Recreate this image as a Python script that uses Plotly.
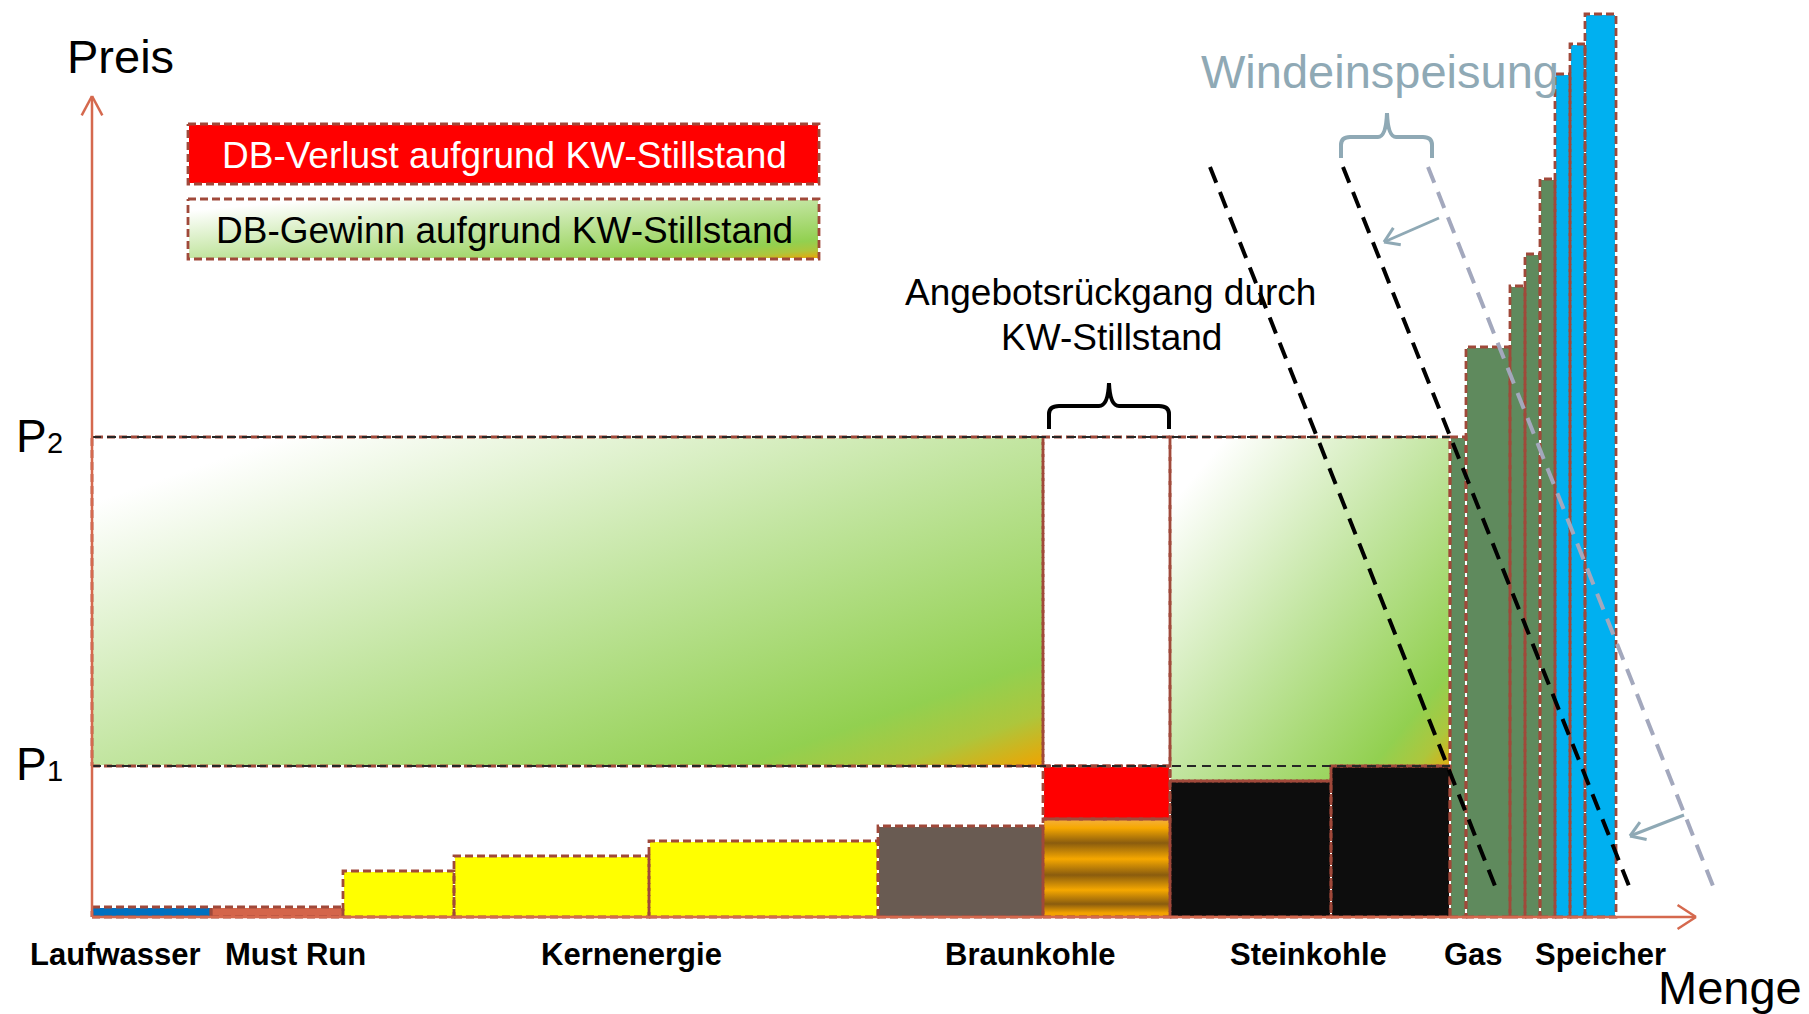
import base64
import numpy as np
import plotly.graph_objects as go

# ---------------- data (Merit-Order, arbitrary units) ----------------
blocks = ["Laufwasser", "Must Run", "Kernenergie 1", "Kernenergie 2", "Kernenergie 3",
          "Braunkohle", "Braunkohle (Stillstand)", "Steinkohle 1", "Steinkohle 2",
          "Gas 1", "Gas 2", "Gas 3", "Gas 4", "Gas 5",
          "Speicher 1", "Speicher 2", "Speicher 3"]
capacity = [119, 132, 111, 195, 229, 165, 127, 161, 119, 16, 44, 15, 15, 15, 15, 15, 31]
marginal_cost = [10, 10, 46, 61, 76, 91, 98, 136, 151, 480, 570, 631, 663, 738, 843, 873, 903]
block_colors = ["#0070C0", "#D4654A", "#FFFF00", "#FFFF00", "#FFFF00", "#695B52", "#F3A200",
                "#0D0D0D", "#0D0D0D", "#5F8A5D", "#5F8A5D", "#5F8A5D", "#5F8A5D", "#5F8A5D",
                "#00B0F0", "#00B0F0", "#00B0F0"]
P1 = 151
P2 = 480
category_labels = ["Laufwasser", "Must Run", "Kernenergie", "Braunkohle", "Steinkohle", "Gas", "Speicher"]
category_label_x = [23, 203, 539, 938, 1216, 1381, 1508]
demand_y = [750, 31]
demand_outage_x = [1118, 1403]      # left black dashed
demand_wind_x = [1251, 1537]        # middle black dashed
demand_nowind_x = [1336, 1621]      # grey dashed
OUTAGE = 6

# ---------------- style ----------------
FONT = "Liberation Sans, Arial, sans-serif"
BORDER = "#A0493A"
AXIS = "#D5694E"
WIND = "#8FA9B5"
GREY_DEM = "#A3A8BD"


def X(px):
    return px - 92


def Y(py):
    return 917 - py


def grad_uri(stops):
    st = "".join(f'<stop offset="{o}" stop-color="{c}"/>' for o, c in stops)
    svg = ('<svg xmlns="http://www.w3.org/2000/svg" width="100" height="100" viewBox="0 0 100 100" '
           'preserveAspectRatio="none"><defs><linearGradient id="g" x1="0" y1="0" x2="1" y2="1">'
           f'{st}</linearGradient></defs><rect width="100" height="100" fill="url(#g)"/></svg>')
    return "data:image/svg+xml;base64," + base64.b64encode(svg.encode()).decode()


GREEN_GRAD = grad_uri([(0, "#FFFFFF"), (0.1, "#FFFFFF"), (0.5, "#C2E5A0"), (0.84, "#92D050"),
                       (0.92, "#ADC63C"), (1, "#F0A300")])

lefts = np.concatenate([[0], np.cumsum(capacity)[:-1]])
rights = lefts + np.array(capacity)

fig = go.Figure()

# gradient areas (DB-Gewinn)
images = [
    dict(source=GREEN_GRAD, xref="x", yref="y", x=0, y=P2, sizex=lefts[OUTAGE], sizey=P2 - P1,
         xanchor="left", yanchor="top", sizing="stretch", layer="below"),
    dict(source=GREEN_GRAD, xref="x", yref="y", x=rights[OUTAGE], y=P2,
         sizex=lefts[OUTAGE + 3] - rights[OUTAGE], sizey=P2 - marginal_cost[OUTAGE + 1],
         xanchor="left", yanchor="top", sizing="stretch", layer="below"),
    dict(source=GREEN_GRAD, xref="x", yref="y", x=X(188), y=Y(199), sizex=631, sizey=60,
         xanchor="left", yanchor="top", sizing="stretch", layer="below"),
]

# bars
fig.add_trace(go.Bar(x=lefts, y=marginal_cost, width=capacity, offset=0, base=0,
                     marker=dict(color=block_colors, line=dict(width=0)),
                     hoverinfo="skip", showlegend=False))

# striped outage block
l, r, t = lefts[OUTAGE], rights[OUTAGE], marginal_cost[OUTAGE]
stripe_pos = [0, 4, 13, 27, 42, 58, 74, 89, 98]
stripe_col = ["#F3A200", "#F3A200", "#8A5C0E", "#F6A800", "#8A5C0E", "#F6A800", "#8A5C0E", "#F6A800", "#F4B040"]
fig.add_trace(go.Scatter(x=[l, r, r, l, l], y=[0, 0, t, t, 0], mode="lines", fill="toself",
                         line=dict(width=0), hoverinfo="skip", showlegend=False,
                         fillgradient=dict(type="vertical", start=0, stop=t,
                                           colorscale=[[p / t, c] for p, c in zip(stripe_pos, stripe_col)])))

# red loss box and white outage box
fig.add_trace(go.Scatter(x=[l, r, r, l, l], y=[t, t, P1, P1, t], mode="lines", fill="toself",
                         fillcolor="#FF0000", line=dict(width=0), hoverinfo="skip", showlegend=False))
fig.add_trace(go.Scatter(x=[l, r, r, l, l], y=[P1, P1, P2, P2, P1], mode="lines", fill="toself",
                         fillcolor="#FFFFFF", line=dict(width=0), hoverinfo="skip", showlegend=False))

# dashed outlines
ox, oy = [], []


def poly(xs, ys):
    ox.extend(list(xs) + [xs[0], None])
    oy.extend(list(ys) + [ys[0], None])


def rect(x0, x1, y0, y1):
    poly([x0, x1, x1, x0], [y0, y0, y1, y1])


for i in range(len(capacity)):
    rect(lefts[i], rights[i], 0, marginal_cost[i])
rect(0, lefts[OUTAGE], P1, P2)
rect(l, r, P1, P2)
rect(l, r, t, P1)
poly([rights[OUTAGE], lefts[OUTAGE + 2], lefts[OUTAGE + 2], lefts[OUTAGE + 3], lefts[OUTAGE + 3], rights[OUTAGE]],
     [marginal_cost[OUTAGE + 1], marginal_cost[OUTAGE + 1], P1, P1, P2, P2])
rect(X(188), X(819), Y(124), Y(184))
rect(X(188), X(819), Y(199), Y(259))
fig.add_trace(go.Scatter(x=ox, y=oy, mode="lines", line=dict(color="#FFFFFF", width=2),
                         hoverinfo="skip", showlegend=False))
fig.add_trace(go.Scatter(x=ox, y=oy, mode="lines", line=dict(color=BORDER, width=2.8, dash="8px,4px"),
                         hoverinfo="skip", showlegend=False))

# price lines P1 / P2
for p in (P1, P2):
    fig.add_trace(go.Scatter(x=[0, lefts[OUTAGE + 3]], y=[p, p], mode="lines",
                             line=dict(color="#262626", width=2.2, dash="9px,6px"),
                             hoverinfo="skip", showlegend=False))

# axes with open arrowheads


def open_arrow(x0, y0, x1, y1, length, ang):
    d = np.array([x1 - x0, y1 - y0], float)
    d /= np.linalg.norm(d)
    out_x, out_y = [x0, x1, None], [y0, y1, None]
    for s in (1, -1):
        a = np.radians(ang) * s
        rot = np.array([d[0] * np.cos(a) - d[1] * np.sin(a), d[0] * np.sin(a) + d[1] * np.cos(a)])
        out_x += [x1 - length * rot[0], x1, None]
        out_y += [y1 - length * rot[1], y1, None]
    return out_x, out_y


ax_x, ax_y = open_arrow(0, 0, 0, Y(96), 22, 28)
fig.add_trace(go.Scatter(x=ax_x, y=ax_y, mode="lines", line=dict(color=AXIS, width=2.5),
                         hoverinfo="skip", showlegend=False))
ax_x, ax_y = open_arrow(0, 0, X(1696), 0, 22, 33)
fig.add_trace(go.Scatter(x=ax_x, y=ax_y, mode="lines", line=dict(color=AXIS, width=2.5),
                         hoverinfo="skip", showlegend=False))

# demand curves
for xs, col in ((demand_outage_x, "#000000"), (demand_wind_x, "#000000"), (demand_nowind_x, GREY_DEM)):
    fig.add_trace(go.Scatter(x=xs, y=demand_y, mode="lines",
                             line=dict(color=col, width=4, dash="17px,10px"),
                             hoverinfo="skip", showlegend=False))

# wind shift arrows
for (sx, sy, tx, ty) in ((1439, 218, 1384, 242), (1684, 815, 1630, 836)):
    axx, ayy = open_arrow(X(sx), Y(sy), X(tx), Y(ty), 17, 33)
    fig.add_trace(go.Scatter(x=axx, y=ayy, mode="lines", line=dict(color=WIND, width=3),
                             hoverinfo="skip", showlegend=False))

# braces
shapes = [
    dict(type="path", xref="x", yref="y",
         path="M957,488 L957,503 Q957,511 967,511 L1007,511 Q1016,511 1017,534 "
              "Q1018,511 1027,511 L1067,511 Q1077,511 1077,503 L1077,488",
         line=dict(color="#000000", width=4)),
    dict(type="path", xref="x", yref="y",
         path="M1249,759 L1249,772 Q1249,780 1258,780 L1286,780 Q1294,780 1295,804 "
              "Q1296,780 1304,780 L1331,780 Q1340,780 1340,772 L1340,759",
         line=dict(color=WIND, width=4)),
    dict(type="rect", xref="x", yref="y", x0=X(188), x1=X(819), y0=Y(124), y1=Y(184),
         fillcolor="#FF0000", line=dict(width=0), layer="below"),
]


def txt(s, px, py, size, color="#000000", xanchor="center"):
    return dict(text=s, x=X(px), y=Y(py), xref="x", yref="y", showarrow=False,
                font=dict(family=FONT, size=size, color=color), xanchor=xanchor, yanchor="middle")


annotations = [
    txt("Preis", 120, 56, 47),
    txt("Menge", 1730, 987, 47),
    txt("P", 14, 436, 46, xanchor="left"),
    txt("2", 45, 443, 29, xanchor="left"),
    txt("P", 14, 764, 46, xanchor="left"),
    txt("1", 45, 771, 29, xanchor="left"),
    txt("DB-Verlust aufgrund KW-Stillstand", 504, 155, 37, color="#FFFFFF"),
    txt("DB-Gewinn aufgrund KW-Stillstand", 504, 230, 37),
    txt("Angebotsrückgang durch", 1110, 292, 37),
    txt("KW-Stillstand", 1111, 337, 37),
    txt("Windeinspeisung", 1380, 71, 47, color=WIND),
]
for lab, lx in zip(category_labels, category_label_x):
    annotations.append(dict(text=f"<b>{lab}</b>", x=lx, y=Y(954), xref="x", yref="y", showarrow=False,
                            font=dict(family=FONT, size=31, color="#000000"),
                            xanchor="center", yanchor="middle"))

fig.update_layout(
    width=1809, height=1014, margin=dict(l=0, r=0, t=0, b=0),
    xaxis=dict(range=[-92, 1717], visible=False),
    yaxis=dict(range=[-97, 917], visible=False),
    plot_bgcolor="#FFFFFF", paper_bgcolor="#FFFFFF",
    showlegend=False, images=images, shapes=shapes, annotations=annotations,
)

fig.write_html("out.html", config={"displayModeBar": False},
               post_script="document.body.style.margin='0';")
